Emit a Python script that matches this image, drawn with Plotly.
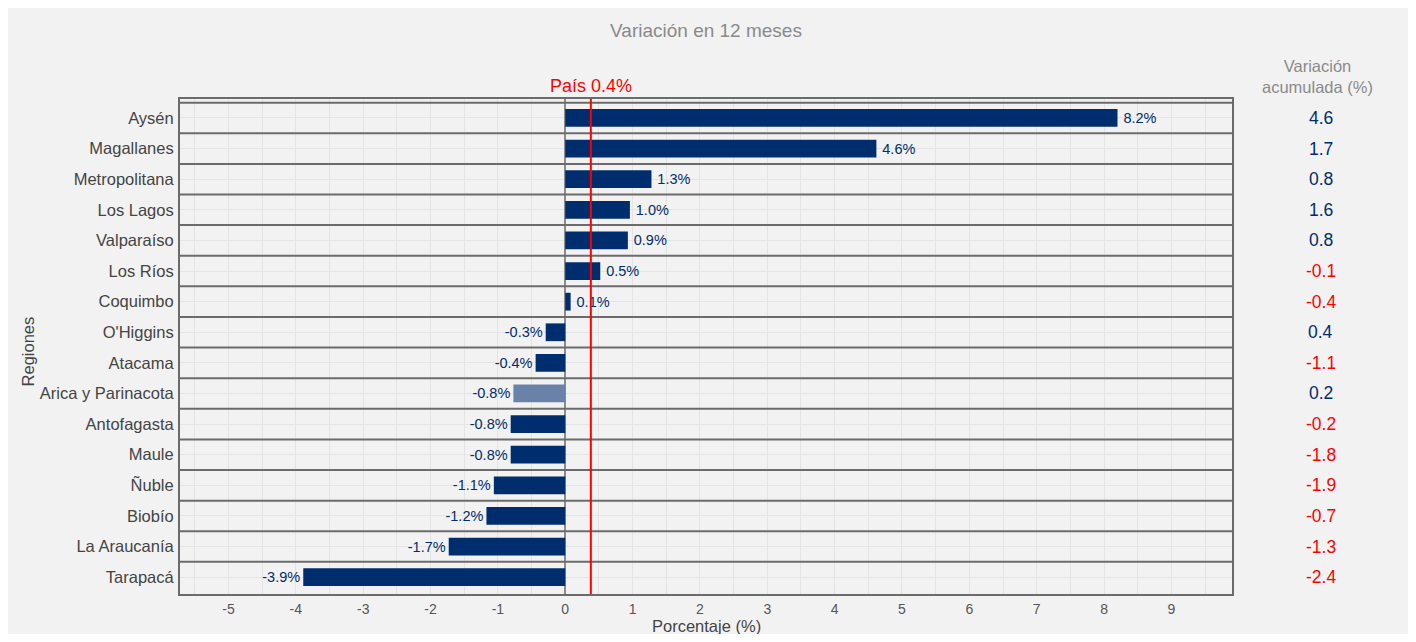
import plotly.graph_objects as go

regiones = ["Aysén", "Magallanes", "Metropolitana", "Los Lagos", "Valparaíso", "Los Ríos",
            "Coquimbo", "O'Higgins", "Atacama", "Arica y Parinacota", "Antofagasta", "Maule",
            "Ñuble", "Biobío", "La Araucanía", "Tarapacá"]
variacion_12m = [8.2, 4.62, 1.28, 0.96, 0.93, 0.52, 0.08, -0.29, -0.44, -0.77, -0.81, -0.81,
                 -1.06, -1.17, -1.73, -3.89]
variacion_acum = [4.6, 1.7, 0.8, 1.6, 0.8, -0.1, -0.4, 0.4, -1.1, 0.2, -0.2, -1.8, -1.9, -0.7, -1.3, -2.4]
destacada = "Arica y Parinacota"
pais = 0.38
x_ticks = list(range(-5, 10))

NAVY = "#002d6e"
LIGHT = "#6983a8"
RED = "#ff0000"
FONT = "Liberation Sans"

colors = [LIGHT if r == destacada else NAVY for r in regiones]
labels = [("\u2009" + f"{v:.1f}%") if v >= 0 else f"{v:.1f}%" for v in variacion_12m]

fig = go.Figure()
fig.add_trace(go.Bar(
    x=variacion_12m, y=regiones, orientation="h",
    marker=dict(color=colors, line=dict(width=0)),
    width=0.58,
    text=labels,
    textposition="outside",
    outsidetextfont=dict(color=NAVY, size=14.5, family=FONT),
    cliponaxis=False,
    hoverinfo="skip",
))

shapes = []
# panel separators
for i in range(len(regiones)):
    shapes.append(dict(type="line", xref="paper", x0=0, x1=1, yref="y", y0=i - 0.5, y1=i - 0.5,
                       line=dict(color="#6b6b6b", width=2), layer="above"))
# country reference line
shapes.append(dict(type="line", xref="x", x0=pais, x1=pais, yref="paper", y0=0, y1=1,
                   line=dict(color=RED, width=2), layer="above"))

annotations = []
for r, v in zip(regiones, variacion_acum):
    annotations.append(dict(xref="paper", x=1.0846, yref="y", y=r, text=f"{v:.1f}",
                            showarrow=False, xanchor="center", yanchor="middle",
                            font=dict(size=17.5, color=NAVY if v >= 0 else RED, family=FONT)))
annotations.append(dict(xref="paper", x=1.0815, yref="paper", y=1.046,
                        text="Variación<br>acumulada (%)", showarrow=False,
                        xanchor="center", yanchor="middle",
                        font=dict(size=16.5, color="#8a8a8a", family=FONT)))
annotations.append(dict(xref="x", x=pais, yref="paper", y=1.026, text=f"País {pais:.1f}%",
                        showarrow=False, xanchor="center", yanchor="middle",
                        font=dict(size=18, color=RED, family=FONT)))
annotations.append(dict(xref="paper", x=-0.1445, yref="paper", y=0.49, text="Regiones",
                        textangle=-90, showarrow=False, xanchor="center", yanchor="middle",
                        font=dict(size=16.5, color="#444444", family=FONT)))
annotations.append(dict(xref="paper", x=0.5, yref="paper", y=-0.064, text="Porcentaje (%)",
                        showarrow=False, xanchor="center", yanchor="middle",
                        font=dict(size=16.5, color="#444444", family=FONT)))

fig.update_layout(
    width=1400, height=626,
    margin=dict(l=172, r=176, t=91, b=40),
    paper_bgcolor="#f2f2f2", plot_bgcolor="#f2f2f2",
    font=dict(family=FONT),
    showlegend=False,
    title=dict(text="Variación en 12 meses", x=0.5, xref="paper", xanchor="center",
               y=1 - 22 / 626, yref="container", yanchor="middle",
               font=dict(size=19, color="#8a8a8a", family=FONT)),
    shapes=shapes,
    annotations=annotations,
    xaxis=dict(range=[-5.72, 9.9], tickvals=x_ticks, ticktext=[str(t) for t in x_ticks],
               showgrid=True, gridcolor="#e4e4e4", gridwidth=1,
               minor=dict(dtick=0.5, tick0=0, showgrid=True, gridcolor="#e4e4e4", gridwidth=1),
               zeroline=True, zerolinecolor="#8c8c8c", zerolinewidth=2,
               showline=True, mirror=True, linecolor="#6b6b6b", linewidth=2,
               ticks="outside", ticklen=1, tickcolor="rgba(0,0,0,0)",
               tickfont=dict(size=14, color="#555555", family=FONT)),
    yaxis=dict(categoryorder="array", categoryarray=regiones, range=[15.55, -0.62],
               showgrid=True, gridcolor="#e4e4e4", gridwidth=1,
               showline=True, mirror=True, linecolor="#6b6b6b", linewidth=2,
               ticks="outside", ticklen=1, tickcolor="rgba(0,0,0,0)",
               tickfont=dict(size=16.5, color="#444444", family=FONT)),
)

fig.write_html("out.html")
